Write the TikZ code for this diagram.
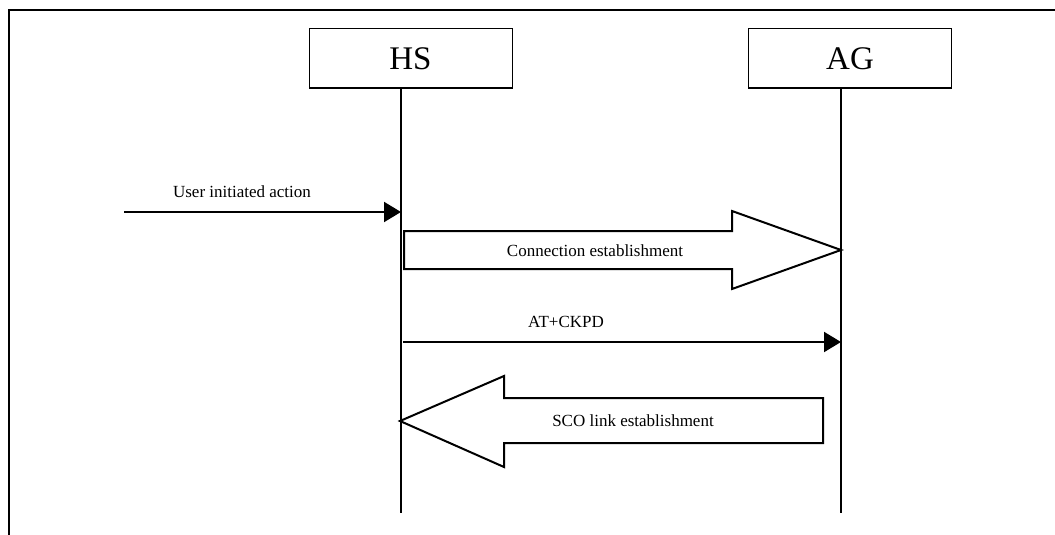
\documentclass[tikz,border=0pt]{standalone}
\usepackage{fontspec}
\setmainfont{Liberation Serif}
\usetikzlibrary{arrows.meta}
\begin{document}
\begin{tikzpicture}[x=1pt,y=-1pt,
  ent/.style={draw,line width=1pt,minimum width=203pt,minimum height=59pt,inner sep=0pt,font=\fontsize{33}{36}\selectfont},
  life/.style={line width=1.5pt},
  msg/.style={line width=2pt,-{Triangle[length=17pt,width=20pt]}},
  blk/.style={draw,line width=2pt,line join=miter},
  lbl/.style={inner sep=0pt,font=\fontsize{17}{19}\selectfont}]
\useasboundingbox (0,0) rectangle (1055,535);
% frame
\draw[line width=2pt] (9,535) -- (9,10) -- (1055,10);
% entities
\node[ent] (hs) at (410.5,58.5) {HS};
\node[ent] (ag) at (850,58.5) {AG};
% lifelines
\coordinate (hsT) at (401,88);
\coordinate (hsB) at (401,513);
\coordinate (agT) at (841,88);
\coordinate (agB) at (841,513);
\draw[life] (hsT) -- (hsB);
\draw[life] (agT) -- (agB);
% user initiated action
\coordinate (uStart) at (124,212);
\coordinate (uEnd) at (401,212);
\draw[msg] (uStart) -- (uEnd);
\node[lbl] (uLbl) at (242,192) {User initiated action};
% connection establishment block arrow
\draw[blk] (404,231) -- (732,231) -- (732,211) -- (841,250) -- (732,289) -- (732,269) -- (404,269) -- cycle;
\node[lbl] (cLbl) at (595,251) {Connection establishment};
% AT+CKPD
\coordinate (aStart) at (403,342);
\coordinate (aEnd) at (841,342);
\draw[msg] (aStart) -- (aEnd);
\node[lbl] (aLbl) at (566,322) {AT+CKPD};
% SCO link establishment block arrow
\draw[blk] (823,398) -- (504,398) -- (504,376) -- (400,421) -- (504,467) -- (504,443) -- (823,443) -- cycle;
\node[lbl] (sLbl) at (633,421) {SCO link establishment};
\end{tikzpicture}
\end{document}
